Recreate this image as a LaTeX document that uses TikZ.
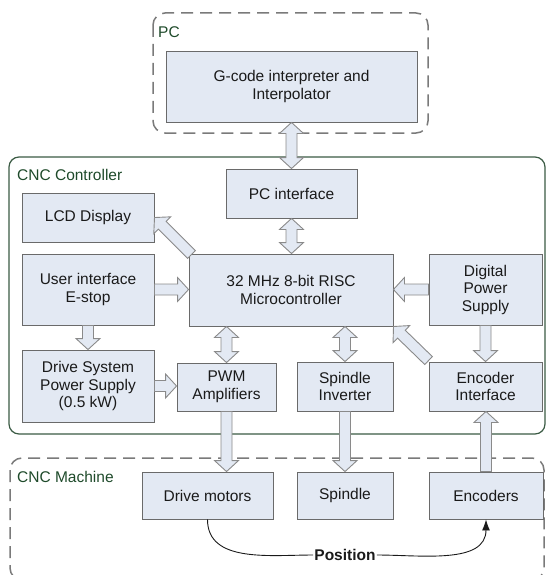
\documentclass[tikz,border=0pt]{standalone}
\usepackage{fontspec}
\setmainfont{Liberation Sans}
\usetikzlibrary{calc,arrows.meta}
\definecolor{boxfill}{HTML}{E3E9F3}
\definecolor{boxline}{HTML}{6A6A6A}
\definecolor{arrline}{HTML}{8A8A8A}
\definecolor{framegreen}{HTML}{3B5B44}
\definecolor{labelgreen}{HTML}{1E4A2A}
\definecolor{dashgray}{HTML}{7A7A7A}
\definecolor{txt}{HTML}{1A1A1A}
\def\bsw{5.5pt}
\def\bhw{12pt}
\def\bhl{11pt}
\newcommand\sarrow[2]{%
  \draw[blk] let \p1=(#1), \p2=(#2), \n1={atan2(\y2-\y1,\x2-\x1)}, \n2={veclen(\x2-\x1,\y2-\y1)} in
  [shift={(\p1)}, rotate=\n1]
  (0pt,-\bsw) -- ({\n2*1pt-\bhl},-\bsw) -- ({\n2*1pt-\bhl},-\bhw) -- ({\n2*1pt},0pt)
  -- ({\n2*1pt-\bhl},\bhw) -- ({\n2*1pt-\bhl},\bsw) -- (0pt,\bsw) -- cycle;
}
\newcommand\darrow[2]{%
  \draw[blk] let \p1=(#1), \p2=(#2), \n1={atan2(\y2-\y1,\x2-\x1)}, \n2={veclen(\x2-\x1,\y2-\y1)} in
  [shift={(\p1)}, rotate=\n1]
  (0pt,0pt) -- (\bhl,\bhw) -- (\bhl,\bsw) -- ({\n2*1pt-\bhl},\bsw) -- ({\n2*1pt-\bhl},\bhw)
  -- ({\n2*1pt},0pt) -- ({\n2*1pt-\bhl},-\bhw) -- ({\n2*1pt-\bhl},-\bsw) -- (\bhl,-\bsw)
  -- (\bhl,-\bhw) -- cycle;
}
\begin{document}
\begin{tikzpicture}[x=1pt,y=-1pt,
  box/.style={draw=boxline, fill=boxfill, line width=0.9pt, inner sep=0pt, align=center,
    font=\fontsize{15.5}{17.5}\selectfont, text=txt},
  blk/.style={draw=arrline, fill=boxfill, line width=0.9pt, line join=miter},
  grouplabel/.style={anchor=west, inner sep=0pt, text=labelgreen, font=\fontsize{15.5}{17.5}\selectfont},
  dashframe/.style={draw=dashgray, line width=1.5pt, dash pattern=on 12pt off 7pt, rounded corners=12pt},
  ctrlframe/.style={draw=framegreen, line width=1.2pt, rounded corners=10pt},
  poscurve/.style={draw=txt, line width=0.9pt}]
\useasboundingbox (0,0) rectangle (546,575);
% frames
\draw[dashframe] (153,13) rectangle (428,133);
\draw[ctrlframe] (9,157) rectangle (545,434);
\draw[dashframe] (10,458) rectangle (544,580);
\node[grouplabel] (lpc) at (158,32) {PC};
\node[grouplabel] (lctrl) at (17,175) {CNC Controller};
\node[grouplabel] (lmach) at (17,477) {CNC Machine};
% box coordinates (for arrows)
\path
  (291.5,86.5) coordinate (cgcode)
  (291.5,193.5) coordinate (cpcif);
% boxes
\node[box, minimum width=251pt, minimum height=71pt] (gcode) at (291.5,86.5) {G-code interpreter and\\Interpolator};
\node[box, minimum width=131pt, minimum height=49pt] (pcif) at (291.5,193.5) {PC interface};
\node[box, minimum width=132pt, minimum height=49pt] (lcd) at (88,217.5) {LCD Display};
\node[box, minimum width=132pt, minimum height=71pt] (ui) at (88,289.5) {User interface\\E-stop};
\node[box, minimum width=204pt, minimum height=72pt] (mcu) at (291,290) {32 MHz 8-bit RISC\\Microcontroller};
\node[box, minimum width=113pt, minimum height=71pt] (dps) at (485.5,289.5) {Digital\\Power\\Supply};
\node[box, minimum width=132pt, minimum height=72pt] (dsps) at (88,386) {Drive System\\Power Supply\\(0.5 kW)};
\node[box, minimum width=99pt, minimum height=48pt] (pwm) at (226.5,387) {PWM\\Amplifiers};
\node[box, minimum width=96pt, minimum height=49pt] (spinv) at (345,386.5) {Spindle\\Inverter};
\node[box, minimum width=113pt, minimum height=49pt] (encif) at (485.5,386.5) {Encoder\\Interface};
\node[box, minimum width=131pt, minimum height=47pt] (drive) at (207.5,495.5) {Drive motors};
\node[box, minimum width=96pt, minimum height=47pt] (spindle) at (345,495.5) {Spindle};
\node[box, minimum width=114pt, minimum height=47pt] (enc) at (486,495.5) {Encoders};
% block arrows
\darrow{gcode.south}{pcif.north}
\darrow{pcif.south}{pcif.south |- mcu.north}
\sarrow{$(mcu.north west)+(3,1)$}{lcd.east}
\sarrow{ui.east}{ui.east -| mcu.west}
\sarrow{dps.west}{dps.west -| mcu.east}
\sarrow{ui.south}{ui.south |- dsps.north}
\darrow{pwm.north |- mcu.south}{pwm.north}
\darrow{spinv.north |- mcu.south}{spinv.north}
\sarrow{dsps.east}{dsps.east -| pwm.west}
\sarrow{dps.south}{dps.south |- encif.north}
\sarrow{$(encif.north west)+(0,-1)$}{mcu.south east}
\sarrow{pwm.south}{pwm.south |- drive.north}
\sarrow{spinv.south}{spinv.south |- spindle.north}
\sarrow{enc.north}{enc.north |- encif.south}
% position feedback
\node[inner sep=1pt, text=txt, font=\bfseries\fontsize{15.5}{17.5}\selectfont] (pos) at (345,555) {Position};
\draw[poscurve] (drive.south) to[out=-90,in=180] (pos.west);
\draw[poscurve,-{Latex[length=11pt,width=8pt]}] (pos.east) to[out=0,in=-90] (enc.south);
\end{tikzpicture}
\end{document}
